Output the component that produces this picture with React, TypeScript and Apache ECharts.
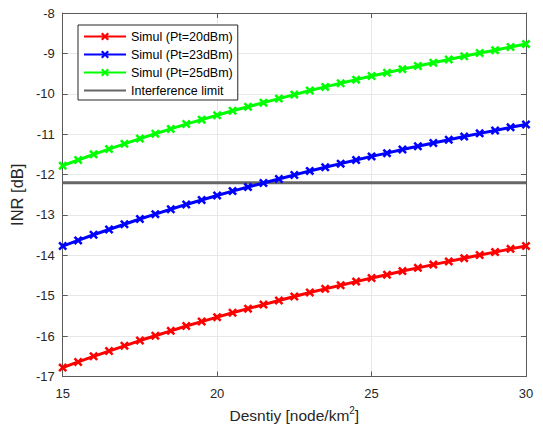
import React, { useEffect, useRef } from "react";
import * as echarts from "echarts";

const densities = [15, 15.5, 16, 16.5, 17, 17.5, 18, 18.5, 19, 19.5, 20, 20.5, 21, 21.5, 22, 22.5, 23, 23.5, 24, 24.5, 25, 25.5, 26, 26.5, 27, 27.5, 28, 28.5, 29, 29.5, 30];
const inr20 = [-16.78, -16.64, -16.50, -16.37, -16.24, -16.11, -15.99, -15.87, -15.75, -15.64, -15.53, -15.42, -15.32, -15.22, -15.12, -15.02, -14.92, -14.83, -14.74, -14.65, -14.56, -14.48, -14.39, -14.31, -14.23, -14.15, -14.07, -13.99, -13.92, -13.84, -13.77];
const inr23 = [-13.77, -13.63, -13.49, -13.36, -13.23, -13.10, -12.98, -12.86, -12.74, -12.63, -12.52, -12.41, -12.31, -12.21, -12.11, -12.01, -11.91, -11.82, -11.73, -11.64, -11.55, -11.47, -11.38, -11.30, -11.22, -11.14, -11.06, -10.98, -10.91, -10.83, -10.76];
const inr25 = [-11.78, -11.64, -11.50, -11.37, -11.24, -11.11, -10.99, -10.87, -10.75, -10.64, -10.53, -10.42, -10.32, -10.22, -10.12, -10.02, -9.92, -9.83, -9.74, -9.65, -9.56, -9.48, -9.39, -9.31, -9.23, -9.15, -9.07, -8.99, -8.92, -8.84, -8.77];
const limitX = [15, 30];
const limitY = [-12.2, -12.2];
const seriesNames = ["Simul (Pt=20dBm)", "Simul (Pt=23dBm)", "Simul (Pt=25dBm)", "Interference limit"];

const FONT = "'Liberation Sans', Arial, Helvetica, sans-serif";
const AXIS = "#5a5a5a";
const TXT = "#262626";
const XMARK = "path://M0,2 L2,0 L5,3 L8,0 L10,2 L7,5 L10,8 L8,10 L5,7 L2,10 L0,8 L3,5 Z";

function pairs(xs: number[], ys: number[]) {
  return xs.map((x, i) => [x, ys[i]]);
}

export default function App() {
  const ref = useRef<HTMLDivElement>(null);
  useEffect(() => {
    if (!ref.current) return;
    const chart = echarts.init(ref.current, undefined, { renderer: "svg" });
    const mk = (name: string, ys: number[], color: string) => ({
      name,
      type: "line",
      data: pairs(densities, ys),
      symbol: XMARK,
      symbolSize: 9,
      showSymbol: true,
      lineStyle: { color, width: 3 },
      itemStyle: { color },
      z: 3,
    });
    const axisCommon = {
      axisLine: { show: true, lineStyle: { color: AXIS, width: 1 } },
      axisTick: { show: true, inside: true, length: 5, lineStyle: { color: AXIS } },
      axisLabel: { color: TXT, fontFamily: FONT, fontSize: 13 },
    };
    chart.setOption({
      animation: false,
      backgroundColor: "#fff",
      textStyle: { fontFamily: FONT },
      grid: { left: 61, right: 17, top: 13, bottom: 50, containLabel: false },
      legend: {
        orient: "vertical",
        left: 78,
        top: 25,
        padding: [5, 5, 3, 5],
        itemWidth: 42,
        itemHeight: 10,
        itemGap: 5,
        borderColor: "#262626",
        borderWidth: 1,
        backgroundColor: "#fff",
        data: [
          seriesNames[0],
          seriesNames[1],
          seriesNames[2],
          { name: seriesNames[3], itemStyle: { opacity: 0 } },
        ],
        textStyle: { color: "#000", fontFamily: FONT, fontSize: 12.5 },
      },
      xAxis: [
        {
          type: "value",
          min: 15,
          max: 30,
          interval: 5,
          ...axisCommon,
          axisLabel: { ...axisCommon.axisLabel, margin: 10 },
          splitLine: { show: true, lineStyle: { color: "#e8e8e8" } },
          name: "Desntiy [node/km{sup|2}]",
          nameLocation: "middle",
          nameGap: 29,
          nameTextStyle: {
            color: TXT,
            fontFamily: FONT,
            fontSize: 15.5,
            rich: { sup: { fontSize: 10, verticalAlign: "top", padding: [0, 0, 9, 0], fontFamily: FONT, color: TXT } },
          },
        },
        {
          type: "value",
          position: "top",
          min: 15,
          max: 30,
          interval: 5,
          ...axisCommon,
          axisLabel: { show: false },
          splitLine: { show: false },
        },
      ],
      yAxis: [
        {
          type: "value",
          min: -17,
          max: -8,
          interval: 1,
          ...axisCommon,
          axisLabel: { ...axisCommon.axisLabel, margin: 8 },
          splitLine: { show: true, lineStyle: { color: "#e8e8e8" } },
          name: "INR [dB]",
          nameLocation: "middle",
          nameGap: 31,
          nameTextStyle: { color: TXT, fontFamily: FONT, fontSize: 16.5 },
        },
        {
          type: "value",
          position: "right",
          min: -17,
          max: -8,
          interval: 1,
          ...axisCommon,
          axisLabel: { show: false },
          splitLine: { show: false },
        },
      ],
      series: [
        mk(seriesNames[0], inr20, "#ff0000"),
        mk(seriesNames[1], inr23, "#0000ff"),
        mk(seriesNames[2], inr25, "#00ff00"),
        {
          name: seriesNames[3],
          type: "line",
          data: pairs(limitX, limitY),
          symbol: "none",
          lineStyle: { color: "#666666", width: 3 },
          itemStyle: { color: "#666666" },
          z: 2,
        },
      ],
    });
    return () => chart.dispose();
  }, []);
  return <div ref={ref} style={{ width: 543, height: 428, position: "absolute", left: 0, top: 0 }} />;
}
